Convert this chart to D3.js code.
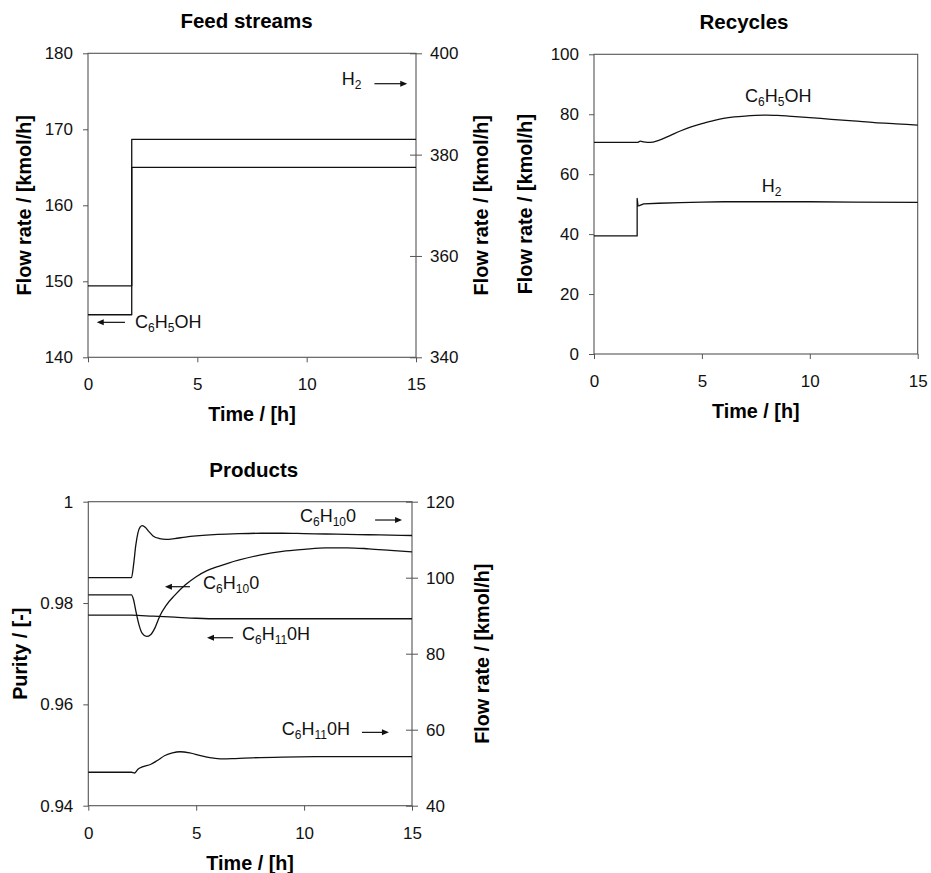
<!DOCTYPE html>
<html>
<head>
<meta charset="utf-8">
<script src="https://cdn.jsdelivr.net/npm/d3@7/dist/d3.min.js"></script>
<style>
  html, body { margin: 0; padding: 0; background: #fff; }
  svg { display: block; }
</style>
</head>
<body>
<svg id="chart" width="931" height="873"></svg>
<script>
// ---------- data ----------
const xTicks = [0, 5, 10, 15];

// Feed streams (step change at t = 2 h)
const feedTime   = [0, 2, 2, 15];
const feedPhenol = [145.6, 145.6, 165.0, 165.0];   // left axis
const feedH2     = [354.1, 354.1, 383.0, 383.0];   // right axis
const feedLeftTicks  = [140, 150, 160, 170, 180];
const feedRightTicks = [340, 360, 380, 400];

// Recycles
const recPhenolTime = [0, 2.0, 2.15, 2.3, 2.6, 3.0, 3.5, 4.0, 4.5, 5.0, 5.5, 6.0, 6.5, 7.0, 7.5, 8.0, 8.5, 9.0, 10, 11, 12, 13, 14, 15];
const recPhenol     = [70.6, 70.6, 71.0, 70.8, 70.6, 71.3, 72.8, 74.4, 75.8, 76.9, 77.8, 78.6, 79.1, 79.4, 79.6, 79.7, 79.6, 79.4, 78.9, 78.3, 77.8, 77.2, 76.8, 76.4];
const recH2Time = [0, 2.0, 2.0, 2.04, 2.1, 2.3, 3, 4, 5, 6, 8, 10, 12, 15];
const recH2     = [39.4, 39.4, 51.9, 49.4, 49.5, 50.1, 50.3, 50.5, 50.7, 50.8, 50.8, 50.8, 50.7, 50.6];
const recTicks = [0, 20, 40, 60, 80, 100];

// Products
const prodOneFlowTime = [0, 2.0, 2.1, 2.2, 2.3, 2.4, 2.5, 2.65, 2.8, 3.0, 3.3, 3.6, 4.0, 4.5, 5, 6, 7, 8, 9, 10, 11, 12, 13, 14, 15];
const prodOneFlow     = [100, 100, 103.5, 108.5, 111.8, 113.3, 113.7, 113.2, 112.2, 111.0, 110.3, 110.1, 110.3, 110.7, 111.0, 111.4, 111.6, 111.7, 111.7, 111.6, 111.5, 111.4, 111.3, 111.2, 111.1];
const prodOnePurityTime = [0, 2.0, 2.1, 2.2, 2.35, 2.5, 2.7, 2.9, 3.1, 3.32, 3.6, 4.0, 4.5, 5.0, 5.5, 6.0, 6.5, 7.0, 8, 9, 10, 11, 12, 13, 14, 15];
const prodOnePurity     = [0.9816, 0.9816, 0.9806, 0.9785, 0.9757, 0.9740, 0.9734, 0.9738, 0.9752, 0.9775, 0.9795, 0.9815, 0.9836, 0.9852, 0.9864, 0.9872, 0.9879, 0.9885, 0.9895, 0.9902, 0.9906, 0.9909, 0.9909, 0.9907, 0.9904, 0.9901];
const prodOlPurityTime = [0, 2, 3, 4, 5, 6, 8, 10, 12, 15];
const prodOlPurity     = [0.9776, 0.9776, 0.9774, 0.9772, 0.9770, 0.9769, 0.9769, 0.9769, 0.9769, 0.9769];
const prodOlFlowTime = [0, 2.0, 2.15, 2.3, 2.5, 2.9, 3.2, 3.55, 3.9, 4.25, 4.7, 5.25, 5.7, 6.2, 6.8, 7.6, 9, 11, 13, 15];
const prodOlFlow     = [48.8, 48.8, 48.6, 49.6, 50.2, 50.9, 51.9, 53.2, 53.9, 54.2, 53.9, 53.1, 52.6, 52.3, 52.4, 52.6, 52.8, 52.9, 52.9, 52.9];
const prodLeftTicks  = [0.94, 0.96, 0.98, 1];
const prodRightTicks = [40, 60, 80, 100, 120];

// ---------- styling ----------
const FONT = "'Liberation Sans', Arial, Helvetica, sans-serif";
const TICK_SIZE = 17;
const LABEL_SIZE = 19.8;
const TITLE_SIZE = 20.5;
const CHEM_SIZE = 18;
const SUB_SIZE = 12;
const SUB_SHIFT = 4;
const AXIS_COLOR = "#555";
const LINE_COLOR = "#111";

const svg = d3.select("#chart");

// Writes a formula such as "C_6H_{10}0" with subscripts as tspans
function chem(textSel, s) {
  const re = /_(?:\{([^}]*)\}|(.))|([^_]+)/g;
  let m, shifted = false;
  while ((m = re.exec(s))) {
    if (m[3] !== undefined) {
      const ts = textSel.append("tspan").text(m[3]);
      if (shifted) { ts.attr("dy", -SUB_SHIFT); shifted = false; }
    } else {
      const ts = textSel.append("tspan").text(m[1] !== undefined ? m[1] : m[2]).attr("font-size", SUB_SIZE);
      if (!shifted) { ts.attr("dy", SUB_SHIFT); shifted = true; }
    }
  }
}

function arrow(g, x0, x1, y) {
  const dir = Math.sign(x1 - x0);
  g.append("line").attr("x1", x0).attr("x2", x1 - dir * 5).attr("y1", y).attr("y2", y)
    .attr("stroke", LINE_COLOR).attr("stroke-width", 1.2);
  g.append("path")
    .attr("d", `M${x1},${y} L${x1 - dir * 7},${y - 3} L${x1 - dir * 7},${y + 3} Z`)
    .attr("fill", LINE_COLOR);
}

function drawPanel(cfg) {
  const g = svg.append("g");
  const { l, r, t, b } = cfg.box;
  const x = d3.scaleLinear().domain([0, 15]).range([l, r]);
  const yL = d3.scaleLinear().domain(cfg.leftDomain).range([b, t]);
  const yR = cfg.rightDomain ? d3.scaleLinear().domain(cfg.rightDomain).range([b, t]) : null;

  // bottom axis
  const ax = g.append("g").attr("transform", `translate(0,${b})`)
    .call(d3.axisBottom(x).tickValues(xTicks).tickSizeInner(5).tickSizeOuter(0).tickPadding(16).tickFormat(d3.format("d")));
  // left axis
  const ay = g.append("g").attr("transform", `translate(${l},0)`)
    .call(d3.axisLeft(yL).tickValues(cfg.leftTicks).tickSizeInner(5).tickSizeOuter(0).tickPadding(10).tickFormat(cfg.leftFormat || d3.format("d")));
  const axes = [ax, ay];
  if (yR) {
    const ar = g.append("g").attr("transform", `translate(${r},0)`)
      .call(d3.axisRight(yR).tickValues(cfg.rightTicks).tickSizeInner(6).tickSizeOuter(0).tickPadding(8).tickFormat(d3.format("d")));
    ar.selectAll(".tick line").attr("x1", -6);
    axes.push(ar);
  }
  axes.forEach(a => {
    a.select(".domain").remove();
    a.selectAll(".tick line").attr("stroke", AXIS_COLOR);
    a.selectAll(".tick text").attr("font-family", FONT).attr("font-size", TICK_SIZE).attr("fill", "#111");
  });

  // plot frame
  g.append("rect").attr("x", l).attr("y", t).attr("width", r - l).attr("height", b - t)
    .attr("fill", "none").attr("stroke", AXIS_COLOR).attr("stroke-width", 1.1);

  // series
  cfg.series.forEach(s => {
    const ys = s.axis === "right" ? yR : yL;
    const line = d3.line().x(d => x(d[0])).y(d => ys(d[1])).curve(s.smooth ? d3.curveMonotoneX : d3.curveLinear);
    g.append("path").datum(d3.zip(s.t, s.v)).attr("d", line)
      .attr("fill", "none").attr("stroke", LINE_COLOR).attr("stroke-width", 1.3).attr("stroke-linejoin", "round");
  });

  // annotations
  cfg.labels.forEach(a => {
    const ys = a.axis === "right" ? yR : yL;
    const txt = g.append("text").attr("x", x(a.t)).attr("y", ys(a.v))
      .attr("font-family", FONT).attr("font-size", CHEM_SIZE).attr("fill", "#111");
    chem(txt, a.text);
    if (a.arrow) arrow(g, x(a.arrow[0]), x(a.arrow[1]), ys(a.arrow[2]));
  });

  // title and axis titles
  g.append("text").attr("x", cfg.titleX).attr("y", t - 25).attr("text-anchor", "middle")
    .attr("font-family", FONT).attr("font-weight", "bold").attr("font-size", TITLE_SIZE).text(cfg.title);
  g.append("text").attr("x", (l + r) / 2).attr("y", b + 64).attr("text-anchor", "middle")
    .attr("font-family", FONT).attr("font-weight", "bold").attr("font-size", LABEL_SIZE).text("Time / [h]");
  g.append("text").attr("transform", `translate(${cfg.leftLabelX},${(t + b) / 2}) rotate(-90)`)
    .attr("text-anchor", "middle").attr("font-family", FONT).attr("font-weight", "bold")
    .attr("font-size", LABEL_SIZE).text(cfg.leftLabel);
  if (cfg.rightLabel) {
    g.append("text").attr("transform", `translate(${cfg.rightLabelX},${(t + b) / 2}) rotate(-90)`)
      .attr("text-anchor", "middle").attr("font-family", FONT).attr("font-weight", "bold")
      .attr("font-size", LABEL_SIZE).text(cfg.rightLabel);
  }
}

// ---------- panels ----------
drawPanel({
  box: { l: 88, r: 416, t: 53.3, b: 357.3 },
  leftDomain: [140, 180], leftTicks: feedLeftTicks,
  rightDomain: [340, 400], rightTicks: feedRightTicks,
  title: "Feed streams", titleX: 246.5,
  leftLabel: "Flow rate / [kmol/h]", leftLabelX: 31,
  rightLabel: "Flow rate / [kmol/h]", rightLabelX: 488,
  series: [
    { t: feedTime, v: feedPhenol, axis: "left" },
    { t: feedTime, v: feedH2, axis: "right" }
  ],
  labels: [
    { text: "H_2", t: 11.6, v: 175.8, axis: "left", arrow: [13.1, 14.6, 176.0] },
    { text: "C_6H_5OH", t: 2.15, v: 143.85, axis: "left", arrow: [1.69, 0.4, 144.6] }
  ]
});

drawPanel({
  box: { l: 594, r: 917.7, t: 54.3, b: 354 },
  leftDomain: [0, 100], leftTicks: recTicks,
  title: "Recycles", titleX: 744,
  leftLabel: "Flow rate / [kmol/h]", leftLabelX: 532,
  series: [
    { t: recPhenolTime, v: recPhenol, axis: "left", smooth: true },
    { t: recH2Time, v: recH2, axis: "left" }
  ],
  labels: [
    { text: "C_6H_5OH", t: 7.0, v: 84.1, axis: "left" },
    { text: "H_2", t: 7.77, v: 54.1, axis: "left" }
  ]
});

drawPanel({
  box: { l: 88.3, r: 412, t: 501.7, b: 805.7 },
  leftDomain: [0.94, 1], leftTicks: prodLeftTicks, leftFormat: d => String(d),
  rightDomain: [40, 120], rightTicks: prodRightTicks,
  title: "Products", titleX: 253.8,
  leftLabel: "Purity / [-]", leftLabelX: 26.5,
  rightLabel: "Flow rate / [kmol/h]", rightLabelX: 489,
  series: [
    { t: prodOneFlowTime, v: prodOneFlow, axis: "right", smooth: true },
    { t: prodOnePurityTime, v: prodOnePurity, axis: "left", smooth: true },
    { t: prodOlPurityTime, v: prodOlPurity, axis: "left", smooth: true },
    { t: prodOlFlowTime, v: prodOlFlow, axis: "right", smooth: true }
  ],
  labels: [
    { text: "C_6H_{10}0", t: 9.81, v: 114.74, axis: "right", arrow: [13.29, 14.54, 115.18] },
    { text: "C_6H_{10}0", t: 5.32, v: 96.95, axis: "right", arrow: [4.71, 3.55, 97.63] },
    { text: "C_6H_{11}0H", t: 7.12, v: 83.6, axis: "right", arrow: [6.71, 5.5, 84.2] },
    { text: "C_6H_{11}0H", t: 8.97, v: 58.6, axis: "right", arrow: [12.68, 13.93, 59.3] }
  ]
});
</script>
</body>
</html>
